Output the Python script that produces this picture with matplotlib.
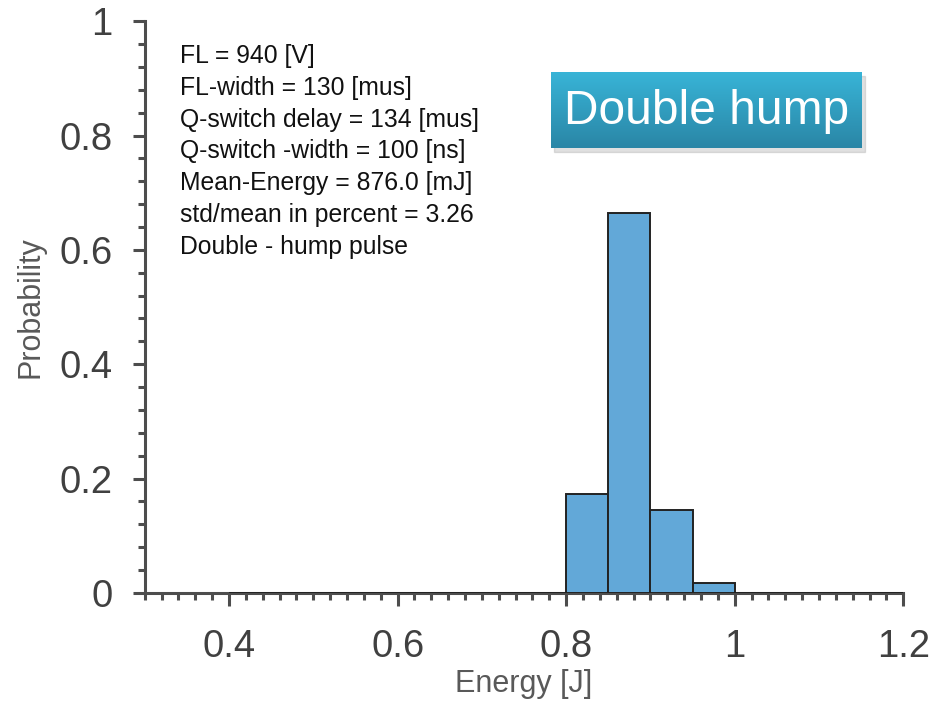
import matplotlib
matplotlib.use('Agg')
import matplotlib.pyplot as plt
import numpy as np
from matplotlib.ticker import MultipleLocator
from matplotlib.patches import Rectangle

plt.rcParams['font.family'] = ['Liberation Sans', 'DejaVu Sans']

# histogram data (bin edges in J, probability per bin)
bin_edges = [0.40, 0.45, 0.50, 0.55, 0.60, 0.65, 0.70, 0.75, 0.80,
             0.85, 0.90, 0.95, 1.00, 1.05, 1.10, 1.15, 1.20]
probs = [0, 0, 0, 0, 0, 0, 0, 0, 0.173, 0.664, 0.145, 0.018, 0, 0, 0, 0]

info_lines = ['FL = 940 [V]',
              'FL-width = 130 [mus]',
              'Q-switch delay = 134 [mus]',
              'Q-switch -width = 100 [ns]',
              'Mean-Energy = 876.0 [mJ]',
              'std/mean in percent = 3.26',
              'Double - hump pulse']

fig = plt.figure(figsize=(9.4, 7.05), dpi=100)
ax = fig.add_axes([0.154, 0.159, 0.807, 0.811])

edges = np.array(bin_edges)
ax.bar(edges[:-1], probs, width=np.diff(edges), align='edge',
       color='#62a8d8', edgecolor='#222222', linewidth=1.4, zorder=3)

ax.set_xlim(0.3, 1.2)
ax.set_ylim(0, 1)
ax.xaxis.set_minor_locator(MultipleLocator(0.02))
ax.yaxis.set_minor_locator(MultipleLocator(0.04))
ax.set_xticks([0.4, 0.6, 0.8, 1.0, 1.2])
ax.set_xticklabels(['0.4', '0.6', '0.8', '1', '1.2'])
ax.set_yticks([0, 0.2, 0.4, 0.6, 0.8, 1.0])
ax.set_yticklabels(['0', '0.2', '0.4', '0.6', '0.8', '1'])

gray = '#4d4d4d'
for s in ['top', 'right']:
    ax.spines[s].set_visible(False)
for s in ['left', 'bottom']:
    ax.spines[s].set_color(gray)
    ax.spines[s].set_linewidth(2.2)
ax.tick_params(which='major', direction='out', length=9, width=2.2,
               color=gray, labelcolor='#404040', labelsize=27.5)
ax.tick_params(axis='x', which='major', pad=17)
ax.tick_params(axis='y', which='major', pad=14)
ax.tick_params(which='minor', direction='out', length=5, width=2.2, color=gray)

ax.set_xlabel('Energy [J]', fontsize=22, color='#595959', labelpad=3)
ax.set_ylabel('Probability', fontsize=22, color='#595959', labelpad=10)

ax.text(0.046, 0.96, '\n'.join(info_lines), transform=ax.transAxes,
        fontsize=17.8, color='#111111', va='top', ha='left', linespacing=1.41)

# "Double hump" badge with gradient and shadow
bx, by, bw, bh = 551 / 940, 1 - 148 / 705, 311 / 940, 76 / 705
shadow = Rectangle((bx + 0.003, by - 0.006), bw, bh, transform=fig.transFigure,
                   color='#999999', alpha=0.3, zorder=1)
fig.add_artist(shadow)
bax = fig.add_axes([bx, by, bw, bh])
bax.set_zorder(5)
grad = np.linspace(0, 1, 100).reshape(-1, 1, 1)
top = np.array([0x38, 0xb4, 0xd7]) / 255
bot = np.array([0x2a, 0x86, 0xa6]) / 255
img = top * (1 - grad) + bot * grad
bax.imshow(img, aspect='auto', extent=[0, 1, 0, 1])
bax.set_axis_off()
bax.text(0.5, 0.48, 'Double hump', color='white', fontsize=34.5,
         ha='center', va='center', transform=bax.transAxes)

fig.savefig('out.png', dpi=100)
